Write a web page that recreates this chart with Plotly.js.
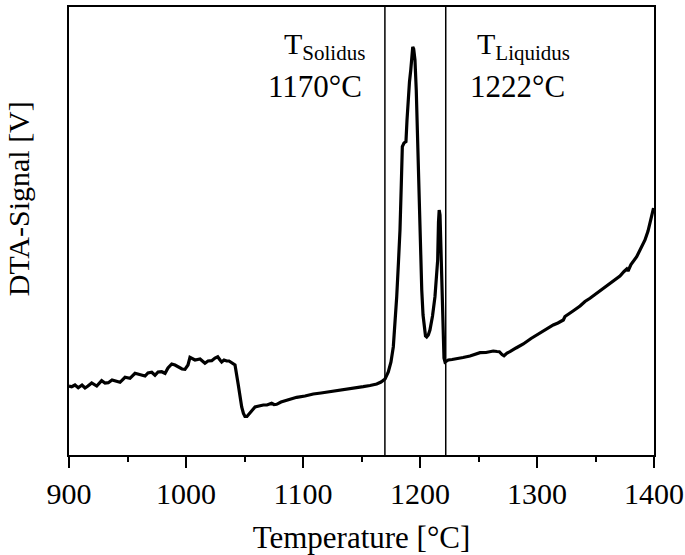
<!DOCTYPE html>
<html>
<head>
<meta charset="utf-8">
<script src="https://cdn.plot.ly/plotly-3.0.1.min.js"></script>
<style>html,body{margin:0;padding:0;background:#fff;}</style>
</head>
<body>
<div id="chart" style="width:685px;height:555px;"></div>
<script>
// Temperature [°C]
const temperature = [
  900, 902.3, 905.1, 907.9, 911.1, 913.7, 916.2, 919.4, 923.7, 927.9, 930.8, 933.6, 936.8, 939.3, 943.6,
  947.9, 952.1, 956.4, 960.7, 965, 967.5, 970.7, 973.5, 976.1, 979.2, 982.1, 984.6, 987.8, 990.6, 993.4,
  996.6, 999.1, 1001.7, 1003.4, 1007.7, 1012, 1014.5, 1016.2, 1018.8, 1022, 1024.8, 1027.1, 1029.1, 1030.5,
  1032.5, 1034.8, 1036.8, 1039.1, 1041.9, 1044.7, 1046.2, 1047.6, 1049.1, 1050.4, 1052.1, 1053.2, 1055.6,
  1059, 1062.4, 1066.1, 1069.2, 1073.2, 1075.2, 1077.5, 1081.2, 1086.1, 1090.6, 1094.6, 1101.7, 1108.8,
  1115.4, 1123.1, 1129.9, 1137.4, 1144.4, 1151.5, 1157.3, 1163, 1166.7, 1170.1, 1172.9, 1175.2, 1177.2,
  1178.6, 1180.1, 1181.6, 1182.9, 1184, 1184.9, 1186.3, 1188, 1188.9, 1190, 1191, 1192.1, 1193, 1193.8,
  1194.6, 1195.7, 1196.8, 1197.7, 1198.5, 1199.4, 1200.4, 1201.5, 1202.6, 1203.7, 1204.7, 1205.7, 1207.1,
  1208.5, 1210.7, 1212.8, 1213.9, 1214.4, 1215.1, 1215.8, 1216.4, 1217.1, 1217.7, 1218.4, 1219.1, 1219.8,
  1220.5, 1221.4, 1224.2, 1227.4, 1231.4, 1236.8, 1242.7, 1247, 1251.3, 1256.4, 1262.6, 1265.8, 1267.8,
  1270.1, 1271.8, 1274.4, 1276.9, 1282.1, 1288.3, 1294.9, 1302.6, 1308.5, 1313.9, 1317.9, 1322.5, 1323.9,
  1325.4, 1330.8, 1336.8, 1341, 1345.3, 1352.1, 1359.6, 1365, 1370.9, 1374.4, 1376.7, 1377.8, 1380.3,
  1385.2, 1388.9, 1392.3, 1394.9, 1396.6, 1398.3, 1399.6
];
// DTA signal (arbitrary units)
const dtaSignal = [
  69, 68.3, 70, 67.3, 70, 67, 69, 72, 69, 74.3, 72, 72.3, 75, 74, 72.7,
  77.7, 76.7, 81.7, 80, 79, 82, 82.7, 79.7, 83, 83.3, 81.7, 87, 91, 90, 87.7,
  86, 85.7, 90, 97.7, 95, 96, 94, 91.7, 94, 94.3, 97, 98.3, 95, 93,
  95, 94, 94, 92.3, 90, 70, 57, 48, 41.5, 38.5, 38.5, 40, 44,
  48, 49, 50, 50, 51.7, 50.5, 50.7, 53, 55, 56, 57.7, 59, 61,
  62, 63.3, 64, 65.7, 66.7, 68.3, 69.5, 71, 73, 76, 83, 93, 108.3,
  130, 158.3, 193, 225, 270, 308.3, 312, 313.3, 335, 358.3, 373, 385, 400, 408,
  406, 395, 365, 325, 285, 242, 200, 165, 140, 125, 119, 118, 120,
  125, 139, 158.3, 180, 182, 195, 233, 245, 240, 218.3, 190, 158.3, 125,
  97, 93, 95, 95.5, 96.7, 97.5, 99, 100.5, 102.3, 102.5, 104, 103.5, 103.3,
  100.5, 99.3, 102, 103.3, 107, 111, 116.5, 122.3, 126.5, 130, 132, 135, 138.5,
  139.5, 144, 149, 153.5, 156.7, 162.5, 169, 174, 179, 183.5, 186, 184, 190.5,
  198.3, 207, 215, 224, 231.7, 239, 247
];
const xTickVals = [900, 1000, 1100, 1200, 1300, 1400];
const xTickText = ['900', '1000', '1100', '1200', '1300', '1400'];
const solidusTemp = 1170;
const liquidusTemp = 1222;
const solidusLabel = ['T<sub>Solidus</sub>', '1170°C'];
const liquidusLabel = ['T<sub>Liquidus</sub>', '1222°C'];
const xTitle = 'Temperature [°C]';
const yTitle = 'DTA-Signal [V]';

const FONT = '"Liberation Serif", "Times New Roman", Times, serif';

const trace = {
  x: temperature,
  y: dtaSignal,
  type: 'scatter',
  mode: 'lines',
  line: {color: '#000', width: 3.2},
  hoverinfo: 'skip'
};

const layout = {
  width: 685,
  height: 555,
  margin: {l: 69, r: 31, t: 7, b: 100},
  paper_bgcolor: '#fff',
  plot_bgcolor: '#fff',
  showlegend: false,
  font: {family: FONT, color: '#000', size: 29},
  xaxis: {
    range: [900, 1400],
    tickmode: 'array',
    tickvals: xTickVals,
    ticktext: xTickText,
    ticks: 'outside',
    ticklen: 11,
    tickwidth: 2,
    tickcolor: '#000',
    minor: {dtick: 50, ticks: 'outside', ticklen: 5, tickwidth: 2, tickcolor: '#000', showgrid: false},
    showline: true,
    linewidth: 2,
    linecolor: '#000',
    mirror: true,
    showgrid: false,
    zeroline: false,
    tickfont: {family: FONT, size: 30, color: '#000'},
    title: {text: xTitle, font: {family: FONT, size: 31, color: '#000'}, standoff: 19},
    automargin: false
  },
  yaxis: {
    range: [0, 448],
    showticklabels: false,
    ticks: '',
    showline: true,
    linewidth: 2,
    linecolor: '#000',
    mirror: true,
    showgrid: false,
    zeroline: false,
    automargin: false
  },
  shapes: [
    {type: 'line', xref: 'x', yref: 'paper', x0: solidusTemp, x1: solidusTemp, y0: 0, y1: 1, line: {color: '#000', width: 1.5}},
    {type: 'line', xref: 'x', yref: 'paper', x0: liquidusTemp, x1: liquidusTemp, y0: 0, y1: 1, line: {color: '#000', width: 1.5}}
  ],
  annotations: [
    {text: solidusLabel[0], xref: 'paper', yref: 'paper', x: 0.364, y: 0.912, xanchor: 'left', yanchor: 'middle', showarrow: false, font: {family: FONT, size: 30, color: '#000'}},
    {text: solidusLabel[1], xref: 'paper', yref: 'paper', x: 0.4205, y: 0.822, xanchor: 'center', yanchor: 'middle', showarrow: false, font: {family: FONT, size: 31, color: '#000'}},
    {text: liquidusLabel[0], xref: 'paper', yref: 'paper', x: 0.694, y: 0.912, xanchor: 'left', yanchor: 'middle', showarrow: false, font: {family: FONT, size: 30, color: '#000'}},
    {text: liquidusLabel[1], xref: 'paper', yref: 'paper', x: 0.766, y: 0.822, xanchor: 'center', yanchor: 'middle', showarrow: false, font: {family: FONT, size: 31, color: '#000'}},
    {text: yTitle, xref: 'paper', yref: 'paper', x: -0.0872, y: 0.573, xanchor: 'center', yanchor: 'middle', textangle: -90, showarrow: false, font: {family: FONT, size: 30, color: '#000'}}
  ]
};

Plotly.newPlot('chart', [trace], layout, {displayModeBar: false, staticPlot: true});
</script>
</body>
</html>
